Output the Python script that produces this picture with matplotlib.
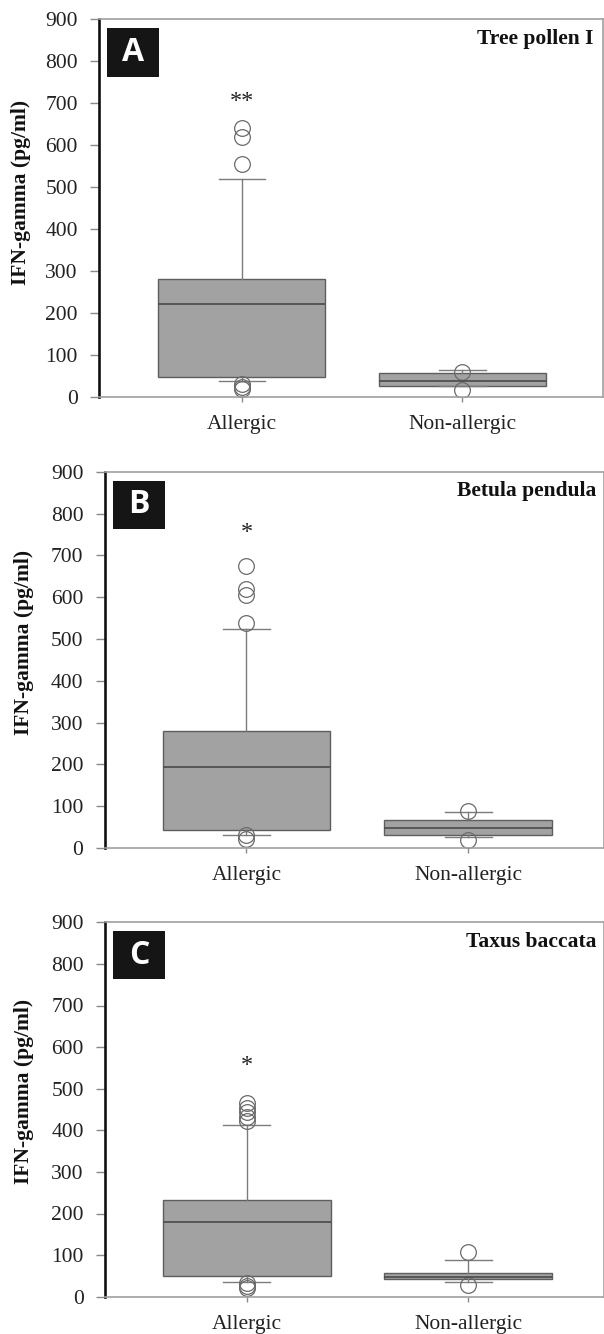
import matplotlib
matplotlib.use("Agg")
import matplotlib.pyplot as plt
from matplotlib.patches import Rectangle

# ---------------- data ----------------
groups = ["Allergic", "Non-allergic"]
panel_letters = ["A", "B", "C"]
panel_titles = ["Tree pollen I", "Betula pendula", "Taxus baccata"]
panel_stars = ["**", "*", "*"]
star_y = [715, 765, 565]
y_ticks = [0, 100, 200, 300, 400, 500, 600, 700, 800, 900]
y_label = "IFN-gamma (pg/ml)"

A_q1 = [47, 25]
A_med = [222, 37]
A_q3 = [280, 57]
A_whislo = [37, 25]
A_whishi = [519, 63]
A_fliers = [[640, 620, 555, 30, 24, 19], [60, 17]]

B_q1 = [42, 30]
B_med = [194, 47]
B_q3 = [279, 67]
B_whislo = [30, 26]
B_whishi = [524, 85]
B_fliers = [[675, 619, 606, 538, 30, 22], [88, 18]]

C_q1 = [50, 42]
C_med = [179, 48]
C_q3 = [232, 56]
C_whislo = [35, 36]
C_whishi = [412, 89]
C_fliers = [[466, 454, 443, 431, 423, 32, 26, 20], [107, 28]]

panel_data = [
    (A_q1, A_med, A_q3, A_whislo, A_whishi, A_fliers),
    (B_q1, B_med, B_q3, B_whislo, B_whishi, B_fliers),
    (C_q1, C_med, C_q3, C_whislo, C_whishi, C_fliers),
]

# ---------------- layout (pixels) ----------------
W, H = 604, 1334
axes_px = [  # left, right, top, bottom
    (99.3, 602.7, 19.3, 396.7),
    (105.0, 604.0, 471.7, 848.0),
    (105.3, 604.0, 922.3, 1296.7),
]
xlims = [(0.3545, 2.636), (0.362, 2.612), (0.362, 2.612)]
ylabel_xy = [(21, 192.5), (24, 642), (24, 1091)]
title_x = [0.981, 0.985, 0.985]

serif = ["Liberation Serif", "DejaVu Serif"]
fs = 15.5

fig = plt.figure(figsize=(W / 100, H / 100), dpi=100)

for i in range(3):
    l, r, t, b = axes_px[i]
    ax = fig.add_axes([l / W, 1 - b / H, (r - l) / W, (b - t) / H])
    q1, med, q3, wlo, whi, fl = panel_data[i]
    stats = []
    for j, g in enumerate(groups):
        stats.append(dict(label=g, q1=q1[j], med=med[j], q3=q3[j],
                          whislo=wlo[j], whishi=whi[j], fliers=fl[j]))
    ax.bxp(stats, positions=[1, 2], widths=0.757, patch_artist=True,
           showfliers=True, capwidths=0.21,
           boxprops=dict(facecolor="#a2a2a2", edgecolor="#5e5e5e", linewidth=1.0),
           medianprops=dict(color="#4a4a4a", linewidth=1.2),
           whiskerprops=dict(color="#7c7c7c", linewidth=1.0),
           capprops=dict(color="#7c7c7c", linewidth=1.0),
           flierprops=dict(marker="o", markerfacecolor="none",
                           markeredgecolor="#6a6a6a", markersize=11.3,
                           markeredgewidth=0.9))
    ax.set_xlim(*xlims[i])
    ax.set_ylim(0, 900)
    ax.set_yticks(y_ticks)
    ax.set_yticklabels([str(v) for v in y_ticks], fontfamily=serif, fontsize=fs,
                       color="#222222")
    ax.set_xticks([1, 2])
    ax.set_xticklabels(groups, fontfamily=serif, fontsize=fs, color="#222222")
    ax.tick_params(axis="y", length=6.5, width=1.0, color="#8a8a8a", pad=9)
    ax.tick_params(axis="x", length=3.6, width=1.0, color="#8a8a8a", pad=9.5)

    for s in ["top", "right", "bottom"]:
        ax.spines[s].set_color("#a0a0a0")
        ax.spines[s].set_linewidth(1.2)
    ax.spines["left"].set_color("#111111")
    ax.spines["left"].set_linewidth(1.9)

    # panel letter box
    ax.add_patch(Rectangle((0.0155, 0.848), 0.104, 0.128, transform=ax.transAxes,
                           facecolor="#151515", edgecolor="none", zorder=5))
    ax.text(0.0155 + 0.052, 0.848 + 0.064, panel_letters[i], transform=ax.transAxes,
            ha="center", va="center", color="white", fontsize=23,
            fontweight="bold", fontfamily=["Open Sans", "DejaVu Sans"], zorder=6)

    # title
    ax.text(title_x[i], 0.948, panel_titles[i], transform=ax.transAxes,
            ha="right", va="center", fontsize=fs, fontweight="bold",
            fontfamily=serif, color="#111111")

    # significance stars
    ax.annotate(panel_stars[i], xy=(1, star_y[i]), xytext=(0, -3),
                textcoords="offset points", ha="center", va="center",
                fontsize=17.5, fontfamily=serif, color="#222222")

    # y label
    lx, ly = ylabel_xy[i]
    fig.text(lx / W, 1 - ly / H, y_label, rotation=90, ha="center", va="center",
             fontsize=fs, fontweight="bold", fontfamily=serif, color="#111111")

fig.savefig("out.png", dpi=100)
